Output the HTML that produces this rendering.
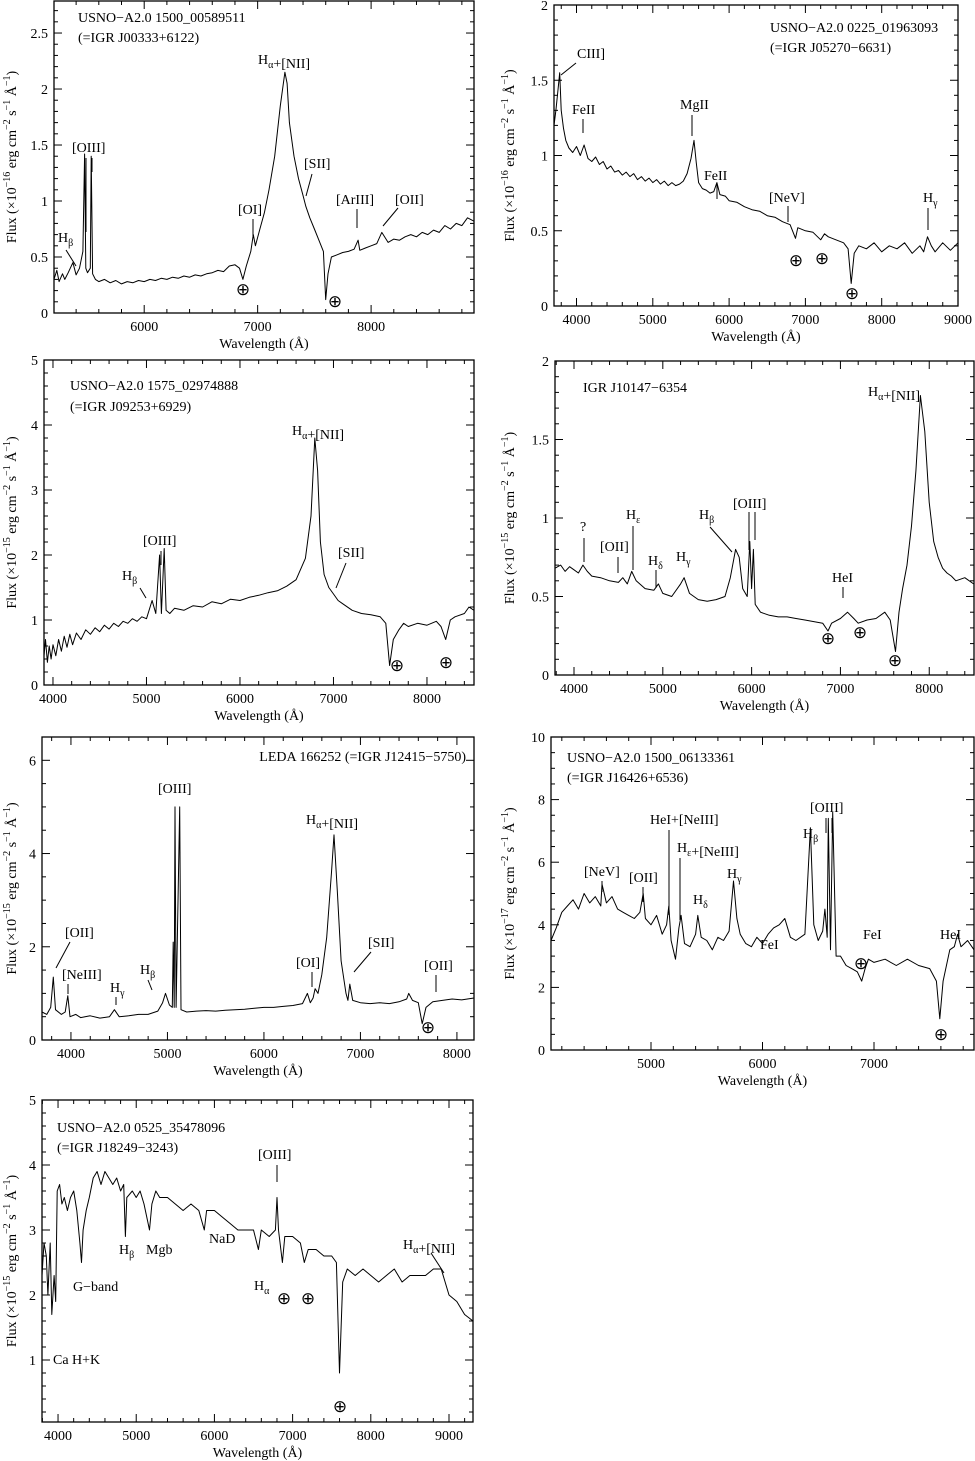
<!DOCTYPE html>
<html><head><meta charset="utf-8">
<style>
html,body{margin:0;padding:0;background:#fff;}
svg{display:block;font-family:"Liberation Serif","DejaVu Serif",serif;}
</style></head>
<body>
<svg id="fig" width="975" height="1461" viewBox="0 0 975 1461" xmlns="http://www.w3.org/2000/svg"></svg>
<script>
// ---- data (wavelength in Å, flux in panel units) ----
const p1Wave=[5205,5230,5250,5280,5300,5330,5372,5400,5430,5460,5475,5485,5500,5525,5533,5545,5570,5600,5650,5700,5750,5800,5850,5900,5950,6000,6050,6100,6150,6200,6250,6300,6350,6400,6450,6500,6550,6600,6650,6700,6750,6800,6840,6870,6900,6940,6962,6980,7020,7060,7100,7150,7200,7240,7260,7280,7320,7360,7400,7425,7460,7500,7540,7580,7600,7620,7650,7700,7750,7800,7850,7885,7900,7950,8000,8050,8094,8150,8200,8250,8300,8350,8400,8450,8500,8550,8600,8650,8700,8750,8800,8850,8907];
const p1Flux=[.30,.38,.28,.35,.30,.36,.45,.34,.40,.55,1.42,.40,.36,.40,1.40,.35,.30,.28,.30,.27,.29,.26,.28,.27,.29,.28,.30,.29,.31,.30,.32,.31,.33,.32,.34,.33,.35,.36,.38,.37,.42,.43,.40,.30,.42,.55,.70,.60,.75,.90,1.10,1.40,1.85,2.15,2.05,1.70,1.40,1.20,1.05,.95,.85,.75,.65,.55,.12,.35,.50,.52,.54,.55,.57,.65,.56,.58,.60,.62,.72,.63,.66,.65,.68,.70,.68,.72,.70,.74,.72,.78,.75,.80,.78,.85,.82];
const p2Wave=[3705,3730,3760,3780,3800,3830,3860,3900,3950,4000,4050,4100,4150,4200,4250,4300,4350,4400,4450,4500,4550,4600,4650,4700,4750,4800,4850,4900,4950,5000,5050,5100,5150,5200,5250,5300,5350,5400,5450,5500,5540,5570,5600,5650,5700,5750,5800,5840,5880,5950,6000,6100,6200,6300,6400,6500,6600,6700,6800,6870,6900,7000,7100,7200,7250,7300,7400,7500,7560,7600,7640,7700,7800,7900,8000,8100,8200,8300,8400,8500,8550,8600,8650,8700,8800,8900,9000];
const p2Flux=[1.20,1.30,1.45,1.55,1.30,1.18,1.10,1.05,1.02,1.06,1.00,1.07,.98,.96,.99,.94,.96,.91,.93,.89,.90,.87,.89,.86,.88,.84,.86,.83,.85,.82,.84,.81,.83,.80,.82,.80,.81,.83,.88,.98,1.10,.95,.82,.78,.77,.75,.76,.82,.74,.73,.70,.69,.66,.64,.63,.60,.59,.56,.54,.45,.52,.50,.49,.44,.48,.46,.44,.42,.38,.15,.35,.40,.38,.42,.36,.40,.38,.42,.35,.40,.36,.46,.40,.36,.42,.37,.42];
const p3Wave=[3904,3920,3940,3960,3980,4000,4030,4060,4090,4120,4150,4180,4210,4250,4300,4350,4400,4450,4500,4550,4600,4650,4700,4750,4800,4850,4900,4950,5000,5060,5100,5140,5160,5190,5210,5250,5300,5400,5500,5600,5700,5800,5900,6000,6100,6200,6300,6400,6500,6600,6700,6760,6800,6830,6860,6900,6950,7000,7050,7100,7200,7300,7400,7500,7560,7600,7640,7700,7750,7800,7900,8000,8100,8150,8200,8250,8300,8400,8450,8503];
const p3Flux=[.45,.70,.35,.60,.40,.62,.45,.70,.52,.75,.58,.78,.62,.80,.70,.85,.78,.88,.82,.92,.86,.95,.90,.98,.95,1.02,.98,1.05,1.02,1.30,1.10,2.00,1.10,2.10,1.15,1.10,1.18,1.15,1.22,1.20,1.28,1.25,1.32,1.30,1.35,1.38,1.42,1.45,1.52,1.62,1.95,2.60,3.80,3.30,2.20,1.70,1.50,1.40,1.30,1.25,1.15,1.10,1.08,1.05,.95,.30,.70,.85,.95,.90,.95,.92,.98,.90,.70,1.00,1.05,1.10,1.20,1.15];
const p4Wave=[3786,3850,3900,3950,4000,4050,4100,4150,4200,4300,4400,4500,4550,4600,4650,4700,4800,4900,4950,5000,5100,5200,5240,5300,5400,5500,5600,5700,5760,5820,5860,5900,5950,5980,6000,6020,6040,6100,6200,6300,6400,6500,6600,6700,6800,6860,6900,7000,7080,7150,7200,7300,7400,7500,7560,7620,7660,7700,7750,7800,7850,7900,7950,8000,8050,8100,8150,8200,8250,8300,8400,8500];
const p4Flux=[.68,.70,.66,.69,.67,.65,.70,.66,.63,.62,.60,.59,.62,.58,.66,.60,.55,.54,.58,.52,.50,.58,.62,.52,.48,.47,.48,.50,.62,.80,.75,.55,.50,.85,.55,.80,.45,.40,.38,.37,.37,.36,.35,.34,.33,.28,.33,.36,.40,.36,.33,.35,.36,.40,.35,.15,.40,.55,.70,.95,1.30,1.78,1.55,1.10,.85,.75,.68,.65,.63,.60,.62,.58];
const p5Wave=[3700,3750,3790,3817,3840,3900,3940,3967,3990,4050,4100,4200,4300,4400,4450,4500,4600,4700,4800,4900,4950,4980,5020,5050,5060,5070,5078,5090,5127,5140,5200,5300,5400,5500,5600,5700,5800,5900,6000,6100,6200,6300,6400,6450,6480,6510,6530,6560,6600,6650,6700,6726,6760,6800,6850,6870,6890,6920,7000,7100,7200,7300,7400,7480,7500,7540,7600,7640,7680,7750,7850,7950,8050,8177];
const p5Flux=[.60,.55,.70,1.35,.65,.55,.60,.95,.50,.55,.48,.52,.47,.50,.65,.50,.52,.55,.55,.62,.80,1.00,.75,.70,2.10,.70,5.00,.70,5.00,.65,.60,.62,.63,.62,.64,.65,.66,.68,.70,.70,.72,.74,.78,1.00,.80,.90,1.10,1.00,1.40,2.20,3.60,4.40,3.20,1.70,1.00,.85,1.20,.85,.80,.78,.80,.78,.82,.88,1.00,.85,.80,.35,.70,.82,.85,.88,.86,.90];
const p6Wave=[4103,4150,4200,4250,4300,4350,4400,4450,4500,4550,4560,4600,4650,4700,4750,4800,4850,4900,4930,4950,5000,5050,5100,5140,5160,5180,5220,5250,5270,5300,5350,5400,5420,5450,5500,5550,5600,5650,5700,5740,5770,5800,5850,5900,5950,6000,6050,6100,6150,6200,6250,6300,6380,6430,6460,6500,6540,6560,6580,6590,6610,6630,6660,6700,6750,6800,6850,6890,6920,6950,7000,7100,7200,7300,7400,7500,7560,7590,7620,7680,7720,7750,7780,7840,7897];
const p6Flux=[3.5,3.9,4.4,4.6,4.8,4.5,5.0,4.7,4.9,4.6,5.3,4.7,4.9,4.5,4.4,4.3,4.2,4.4,5.0,4.2,4.0,4.3,3.7,4.0,4.6,3.5,2.9,3.9,4.3,3.4,3.3,3.7,4.3,3.6,3.5,3.2,3.6,3.5,3.8,5.4,4.2,3.7,3.4,3.3,3.6,3.4,3.7,3.9,4.0,4.2,3.6,3.5,3.7,7.1,4.0,3.5,3.8,4.5,3.6,7.4,3.2,7.6,3.0,3.0,2.7,2.6,2.5,2.2,2.6,2.9,2.8,2.9,2.7,2.9,2.7,2.6,2.2,1.0,2.2,3.2,3.3,3.7,3.3,3.5,3.2];
const p7Wave=[3795,3820,3850,3870,3900,3920,3950,3970,3990,4020,4050,4080,4120,4160,4200,4240,4280,4300,4320,4360,4400,4450,4500,4550,4600,4650,4700,4750,4800,4840,4861,4880,4950,5000,5050,5100,5170,5200,5250,5300,5400,5500,5600,5700,5800,5870,5900,6000,6100,6200,6300,6400,6500,6563,6600,6700,6780,6800,6820,6870,6900,7000,7100,7150,7200,7300,7400,7500,7560,7600,7640,7700,7800,7900,8000,8100,8200,8300,8400,8500,8600,8700,8800,8900,8950,9000,9100,9200,9307];
const p7Flux=[2.3,2.8,2.6,2.0,2.8,1.7,2.3,1.9,3.6,3.7,3.4,3.5,3.3,3.5,3.6,3.3,2.8,2.5,3.0,3.3,3.5,3.8,3.9,3.7,3.9,3.8,3.7,3.8,3.6,3.7,2.9,3.5,3.6,3.5,3.6,3.4,3.0,3.4,3.6,3.5,3.5,3.4,3.3,3.4,3.3,3.0,3.3,3.3,3.2,3.1,3.0,3.0,3.0,2.7,3.0,2.9,3.0,3.5,3.0,2.5,2.9,2.9,2.8,2.5,2.7,2.7,2.6,2.6,2.5,0.8,2.2,2.4,2.3,2.4,2.3,2.2,2.3,2.4,2.2,2.3,2.3,2.3,2.4,2.4,2.2,2.0,1.9,1.7,1.6];

const NS="http://www.w3.org/2000/svg";
const svg=document.getElementById('fig');
function mk(tag,attrs,parent){const e=document.createElementNS(NS,tag);for(const k in attrs)e.setAttribute(k,attrs[k]);(parent||svg).appendChild(e);return e;}

function panel(c){
  const g=mk('g',{});
  
  
  const sx=w=>c.L+(w-c.x0)/(c.x1-c.x0)*(c.R-c.L);
  const sy=f=>c.B-(f-c.y0)/(c.y1-c.y0)*(c.B-c.T);
  let d='';
  for(let i=0;i<c.wave.length;i++){d+=(i?'L':'M')+sx(c.wave[i]).toFixed(1)+' '+sy(c.flux[i]).toFixed(1);}
  const ln=mk('path',{d:d,fill:'none',stroke:'#000','stroke-width':1,'stroke-linejoin':'round'},g);
  
  
  const fr=mk('rect',{x:c.L,y:c.T,width:c.R-c.L,height:c.B-c.T,fill:'none',stroke:'#000','stroke-width':1.3},g);
  
  
  for(let w=Math.ceil(c.x0/c.xmin)*c.xmin;w<=c.x1;w+=c.xmin){
    const X=sx(w);const maj=(w%c.xmaj===0);const len=maj?8:4;
    mk('line',{x1:X,y1:c.B,x2:X,y2:c.B-len,stroke:'#000'},g);
    mk('line',{x1:X,y1:c.T,x2:X,y2:c.T+len,stroke:'#000'},g);
    if(maj){const t=mk('text',{x:X,y:c.B+18,'font-size':14,'text-anchor':'middle'},g);t.textContent=w;
      
      }
  }
  const nmin=Math.round((c.y1-c.y0)/c.ymin)+2;
  for(let i=0;i<=nmin;i++){
    const v=Math.round((Math.ceil(c.y0/c.ymin-1e-6)*c.ymin+i*c.ymin)*1000)/1000;
    if(v>c.y1+1e-6)break;
    const Y=sy(v);const maj=Math.abs(v/c.ymaj-Math.round(v/c.ymaj))<1e-6;const len=maj?8:4;
    mk('line',{x1:c.L,y1:Y,x2:c.L+len,y2:Y,stroke:'#000'},g);
    mk('line',{x1:c.R,y1:Y,x2:c.R-len,y2:Y,stroke:'#000'},g);
    if(maj){const t=mk('text',{x:c.L-6,y:Y+5,'font-size':14,'text-anchor':'end'},g);t.textContent=String(v);
      
      }
  }
  const xt=mk('text',{x:(c.L+c.R)/2,y:c.B+35,'font-size':14,'text-anchor':'middle'},g);
  xt.textContent='Wavelength (Å)';
  
  
  const yx=c.ytx, yy=(c.T+c.B)/2;
  const yt=mk('text',{x:yx,y:yy,'font-size':14,'text-anchor':'middle',transform:'rotate(-90 '+yx+' '+yy+')'},g);
  yt.innerHTML='Flux (×10<tspan dy="-6" font-size="10">'+c.exp+'</tspan><tspan dy="6"> erg cm</tspan><tspan dy="-6" font-size="10">−2</tspan><tspan dy="6"> s</tspan><tspan dy="-6" font-size="10">−1</tspan><tspan dy="6"> Å</tspan><tspan dy="-6" font-size="10">−1</tspan><tspan dy="6">)</tspan>';
  
  
  (c.notes||[]).forEach(n=>{
    const t=mk('text',{x:n[0],y:n[1],'font-size':14},g);
    if(n[3])t.setAttribute('text-anchor',n[3]);
    t.innerHTML=n[2];
    
    
  });
  (c.lines||[]).forEach(l=>{mk('line',{x1:l[0],y1:l[1],x2:l[2],y2:l[3],stroke:'#000','stroke-width':1},g);});
  (c.earth||[]).forEach(p=>{
    const t=mk('text',{x:p[0],y:p[1],'font-size':17,'text-anchor':'middle','font-family':'DejaVu Sans'},g);
    t.textContent='⊕';
    
    
  });
}
const sub=(a,b)=>a+'<tspan dy="4" font-size="10">'+b+'</tspan><tspan dy="-4"></tspan>';
const Ha=sub('H','α')+'+[NII]';

panel({name:'panel-igr-j00333',L:54,R:474,T:1,B:313,x0:5205,x1:8907,y0:0,y1:2.786,xmaj:1000,xmin:200,ymaj:0.5,ymin:0.1,wave:p1Wave,flux:p1Flux,exp:'−16',ytx:16,
 notes:[[78,22,'USNO−A2.0 1500_00589511'],[78,42,'(=IGR J00333+6122)'],[58,242,sub('H','β')],[72,152,'[OIII]'],[238,214,'[OI]'],[258,64,Ha],[304,168,'[SII]'],[336,204,'[ArIII]'],[395,204,'[OII]']],
 lines:[[66,250,76,266],[86,158,86,232],[92,158,92,172],[253,219,253,236],[312,174,306,196],[357,209,357,228],[398,208,383,226]],
 earth:[[243,295],[335,307]]});
panel({name:'panel-igr-j05270',L:554,R:958,T:5,B:306,x0:3705,x1:9000,y0:0,y1:2,xmaj:1000,xmin:200,ymaj:0.5,ymin:0.1,wave:p2Wave,flux:p2Flux,exp:'−16',ytx:514,
 notes:[[770,32,'USNO−A2.0 0225_01963093'],[770,52,'(=IGR J05270−6631)'],[577,58,'CIII]'],[572,114,'FeII'],[680,109,'MgII'],[704,180,'FeII'],[769,202,'[NeV]'],[923,202,sub('H','γ')]],
 lines:[[561,75,576,63],[583,119,583,133],[692,115,692,136],[717,184,717,199],[788,206,788,222],[928,208,928,230]],
 earth:[[796,266],[822,264],[852,299]]});
panel({name:'panel-igr-j09253',L:44,R:474,T:360,B:685,x0:3904,x1:8503,y0:0,y1:5,xmaj:1000,xmin:200,ymaj:1,ymin:0.2,wave:p3Wave,flux:p3Flux,exp:'−15',ytx:16,
 notes:[[70,390,'USNO−A2.0 1575_02974888'],[70,411,'(=IGR J09253+6929)'],[122,580,sub('H','β')],[143,545,'[OIII]'],[292,435,Ha],[338,557,'[SII]']],
 lines:[[140,588,146,598],[161,551,161,565],[346,563,336,588]],
 earth:[[397,671],[446,668]]});
panel({name:'panel-igr-j10147',L:555,R:974,T:361,B:675,x0:3786,x1:8504,y0:0,y1:2,xmaj:1000,xmin:200,ymaj:0.5,ymin:0.1,wave:p4Wave,flux:p4Flux,exp:'−15',ytx:514,
 notes:[[583,392,'IGR J10147−6354'],[580,531,'?'],[600,551,'[OII]'],[626,519,sub('H','ε')],[648,565,sub('H','δ')],[676,561,sub('H','γ')],[699,519,sub('H','β')],[733,508,'[OIII]'],[832,582,'HeI'],[868,396,Ha]],
 lines:[[584,538,584,562],[618,557,618,573],[633,526,633,570],[656,570,656,588],[710,527,732,552],[749,512,749,550],[755,512,755,540],[843,587,843,598]],
 earth:[[828,644],[860,638],[895,666]]});
panel({name:'panel-igr-j12415',L:42,R:474,T:737,B:1040,x0:3700,x1:8177,y0:0,y1:6.5,xmaj:1000,xmin:200,ymaj:2,ymin:0.5,wave:p5Wave,flux:p5Flux,exp:'−15',ytx:16,
 notes:[[466,761,'LEDA 166252 (=IGR J12415−5750)','end'],[65,937,'[OII]'],[62,979,'[NeIII]'],[110,992,sub('H','γ')],[140,974,sub('H','β')],[158,793,'[OIII]'],[306,824,Ha],[296,967,'[OI]'],[368,947,'[SII]'],[424,970,'[OII]']],
 lines:[[70,942,56,968],[68,984,68,994],[116,997,116,1005],[148,980,152,990],[312,972,312,987],[371,952,354,972],[436,975,436,992]],
 earth:[[428,1033]]});
panel({name:'panel-igr-j16426',L:551,R:974,T:737,B:1050,x0:4103,x1:7897,y0:0,y1:10,xmaj:1000,xmin:200,ymaj:2,ymin:0.5,wave:p6Wave,flux:p6Flux,exp:'−17',ytx:514,
 notes:[[567,762,'USNO−A2.0 1500_06133361'],[567,782,'(=IGR J16426+6536)'],[584,876,'[NeV]'],[629,882,'[OII]'],[650,824,'HeI+[NeIII]'],[677,852,sub('H','ε')+'+[NeIII]'],[693,904,sub('H','δ')],[727,878,sub('H','γ')],[760,949,'FeI'],[803,838,sub('H','β')],[810,812,'[OIII]'],[863,939,'FeI'],[940,939,'HeI']],
 lines:[[602,881,602,892],[643,887,643,902],[669,830,669,915],[680,858,680,920],[826,818,826,833],[832,818,832,833]],
 earth:[[861,969],[941,1040]]});
panel({name:'panel-igr-j18249',L:42,R:473,T:1100,B:1422,x0:3795,x1:9307,y0:0.046,y1:5,xmaj:1000,xmin:200,ymaj:1,ymin:0.2,wave:p7Wave,flux:p7Flux,exp:'−15',ytx:16,
 notes:[[57,1132,'USNO−A2.0 0525_35478096'],[57,1152,'(=IGR J18249−3243)'],[73,1291,'G−band'],[119,1254,sub('H','β')],[146,1254,'Mgb'],[209,1243,'NaD'],[258,1159,'[OIII]'],[254,1290,sub('H','α')],[403,1249,Ha],[53,1364,'Ca H+K']],
 lines:[[277,1165,277,1182],[431,1253,444,1273]],
 earth:[[284,1304],[308,1304],[340,1412]]});
</script>
</body></html>
